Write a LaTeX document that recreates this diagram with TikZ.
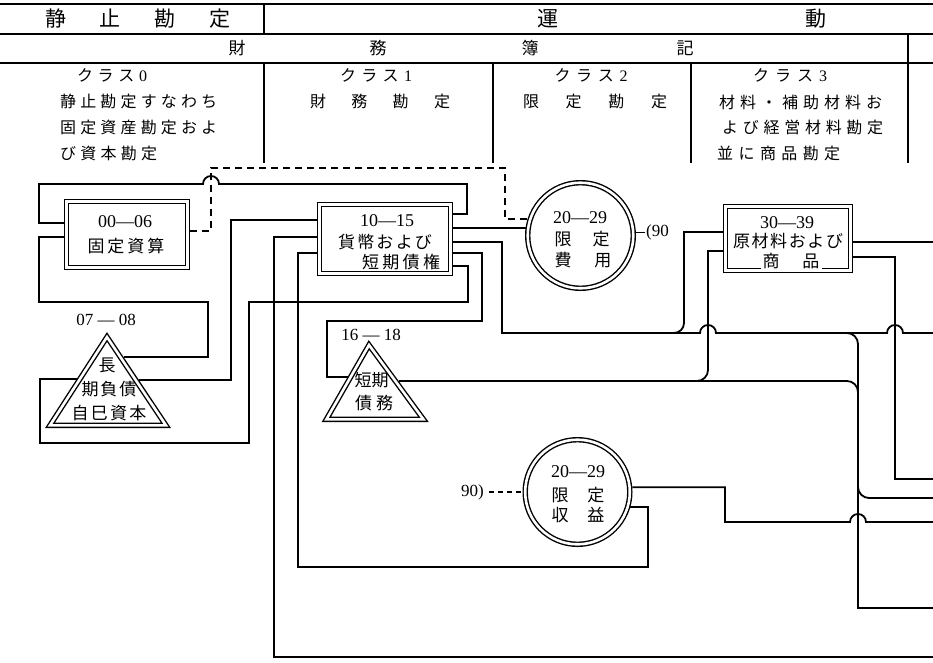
\documentclass[tikz,border=0pt]{standalone}
\usepackage{fontspec}
\setmainfont{Liberation Serif}
\newfontfamily\cjk{Noto Sans CJK JP}
\def\spmark{SPMARK}
\def\endspr{}
\def\spr#1{\sprA#1\spmark\endspr}
\def\sprA#1#2\endspr{{#1}\ifx\spmark#2\else\hfil\sprA#2\endspr\fi}
\newcommand\spreadbox[2]{\makebox[#1][s]{\spr{#2}}}
\begin{document}
\begin{tikzpicture}[x=1pt,y=-1pt,
 ln/.style={line width=1.8pt},
 hd/.style={line width=1.8pt},
 dbl/.style={draw,line width=1.4pt,double=white,double distance=2.6pt,inner sep=0pt,outer sep=2.7pt},
 dtri/.style={line width=1.4pt,double=white,double distance=2.6pt,line join=miter},
 dsh/.style={line width=1.8pt,dash pattern=on 7pt off 5pt},
 jp/.style={font=\cjk\fontsize{16}{16}\selectfont,inner sep=0pt},
 jpb/.style={font=\cjk\fontsize{21}{21}\selectfont,inner sep=0pt},
 jpm/.style={font=\cjk\fontsize{17}{17}\selectfont,inner sep=0pt},
 num/.style={font=\fontsize{18}{18}\selectfont,inner sep=0pt},
 nums/.style={font=\fontsize{17}{17}\selectfont,inner sep=0pt}]
\fill[white] (0,0) rectangle (933,662);
\useasboundingbox (0,0) rectangle (933,662);
% header table
\draw[hd] (0,4) -- (933,4);
\draw[hd] (0,34) -- (933,34);
\draw[hd] (0,63) -- (933,63);
\draw[hd] (264,4) -- (264,34);
\draw[hd] (908,34) -- (908,63);
\draw[hd] (264,63) -- (264,163);
\draw[hd] (493,63) -- (493,163);
\draw[hd] (691,63) -- (691,163);
\draw[hd] (908,63) -- (908,163);
\node[jpb] (h1) at (138,19) {\spreadbox{186pt}{静止勘定}};
\node[jpb] (h2) at (548,19) {運};
\node[jpb] (h3) at (816,19) {動};
\node[jpm] (h4a) at (237,48) {財};
\node[jpm] (h4b) at (378,48) {務};
\node[jpm] (h4c) at (530,48) {簿};
\node[jpm] (h4d) at (685,48) {記};
\node[jp] (c0a) at (112,75) {\spreadbox{70pt}{クラス{\rmfamily 0}}};
\node[jp,anchor=west] (c0b) at (60,101) {\spreadbox{157pt}{静止勘定すなわち}};
\node[jp,anchor=west] (c0c) at (60,127) {\spreadbox{157pt}{固定資産勘定およ}};
\node[jp,anchor=west] (c0d) at (60,153) {\spreadbox{97pt}{び資本勘定}};
\node[jp] (c1a) at (376,75) {\spreadbox{72pt}{クラス{\rmfamily 1}}};
\node[jp] (c1b) at (380,101) {\spreadbox{140pt}{財務勘定}};
\node[jp] (c2a) at (591,75) {\spreadbox{73pt}{クラス{\rmfamily 2}}};
\node[jp] (c2b) at (595,101) {\spreadbox{144pt}{限定勘定}};
\node[jp] (c3a) at (790,75) {\spreadbox{74pt}{クラス{\rmfamily 3}}};
\node[jp,anchor=west] (c3b) at (719,102) {\spreadbox{163pt}{材料・補助材料お}};
\node[jp,anchor=west] (c3c) at (722,127) {\spreadbox{161pt}{よび経営材料勘定}};
\node[jp,anchor=west] (c3d) at (717,153) {\spreadbox{123pt}{並に商品勘定}};
% nodes
\node[dbl,minimum width=120.6pt,minimum height=65.6pt] (b0) at (127,234.5) {};
\node[dbl,minimum width=130.6pt,minimum height=68.6pt] (b1) at (385,239) {};
\node[dbl,minimum width=124.6pt,minimum height=63.6pt] (b3) at (788,238.5) {};
\node[dbl,circle,minimum size=105.6pt] (k1) at (580.5,235.5) {};
\node[dbl,circle,minimum size=104.6pt] (k2) at (577.5,492) {};
\draw[dtri] (107,337) -- (50,425.3) -- (165.9,425.3) -- cycle;
\draw[dtri] (369,345) -- (326.4,419.3) -- (423.4,419.3) -- cycle;
\coordinate (p1L) at (76.6,379);
\coordinate (p1R) at (139,380);
\coordinate (p1R2) at (123.7,357);
\coordinate (p2L) at (347.8,377);
\coordinate (p2R) at (399,381);
\coordinate (e242) at (933,242);
\coordinate (e333) at (933,333);
\coordinate (e479) at (933,479);
\coordinate (e498) at (933,498);
\coordinate (e522) at (933,522);
\coordinate (e608) at (933,608);
\coordinate (e657) at (933,657);
% texts in nodes
\node[num] (b0t1) at (125,222) {00—06};
\node[jpm] (b0t2) at (126,246) {\spreadbox{77pt}{固定資算}};
\node[num] (b1t1) at (387,221) {10—15};
\node[jpm] (b1t2) at (385,242) {\spreadbox{94pt}{貨幣および}};
\node[jpm] (b1t3) at (401,262) {\spreadbox{78pt}{短期債権}};
\node[num] (b3t1) at (787,223) {30—39};
\node[jpm] (b3t2) at (788,241) {\spreadbox{110pt}{原材料および}};
\node[jpm,fill=white,inner xsep=2pt] (b3t3) at (791,261) {\spreadbox{57pt}{商品}};
\node[num] (k1t1) at (580,218) {20—29};
\node[jpm] (k1t2) at (582,239) {\spreadbox{55pt}{限定}};
\node[jpm] (k1t3) at (583,260) {\spreadbox{57pt}{費用}};
\node[num] (k2t1) at (578,472) {20—29};
\node[jpm] (k2t2) at (578,495) {\spreadbox{53pt}{限定}};
\node[jpm] (k2t3) at (578,515) {\spreadbox{53pt}{収益}};
\node[nums] (t1l) at (106,320) {07 — 08};
\node[jpm] (t1a) at (107,365) {長};
\node[jpm] (t1b) at (109,389) {\spreadbox{55pt}{期負債}};
\node[jpm] (t1c) at (109,413) {\spreadbox{75pt}{自巳資本}};
\node[nums] (t2l) at (371,335) {16 — 18};
\node[jpm] (t2a) at (371,380) {\spreadbox{33pt}{短期}};
\node[jpm] (t2b) at (374,403) {\spreadbox{38pt}{債務}};
% connectors
\draw[ln] (b1.east|-0,214) -- (467,214) -- (467,184) -- (219,184)
  arc[start angle=0,end angle=-180,radius=8] -- (39,184) -- (39,223) -- (b0.west|-0,223);
\draw[ln] (b0.west|-0,237) -- (39,237) -- (39,302) -- (208,302) -- (208,357) -- (p1R2);
\draw[dsh] (b0.east|-0,231) -- (211,231) -- (211,168) -- (505,168) -- (k1.163 -| 505,0) -- (k1.163);
\draw[ln] (p1L) -- (40,379) -- (40,443) -- (249,443) -- (249,302) -- (468,302) -- (468,266) -- (b1.east|-0,266);
\draw[ln] (p1R) -- (231,380) -- (231,220) -- (b1.west|-0,220);
\draw[ln] (b1.west|-0,237) -- (274,237) -- (274,657) -- (e657);
\draw[ln] (b1.west|-0,253) -- (298,253) -- (298,567) -- (648,567) -- (k2.344 -| 648,0) -- (k2.344);
\draw[ln] (k1.172 -| b1.east) -- (k1.172);
\draw[ln] (b1.east|-0,242) -- (502,242) -- (502,333) -- (700,333)
  arc[start angle=180,end angle=360,radius=8] -- (887,333)
  arc[start angle=180,end angle=360,radius=8] -- (e333);
\draw[ln,rounded corners=10pt] (660,333) -- (684,333) -- (684,300);
\draw[ln] (684,300) -- (684,232) -- (b3.west|-0,232);
\draw[ln,rounded corners=11pt] (830,333) -- (858,333) -- (858,365);
\draw[ln] (858,365) -- (858,608) -- (e608);
\draw[ln,rounded corners=11pt] (858,470) -- (858,498) -- (885,498);
\draw[ln] (885,498) -- (e498);
\draw[ln] (b1.east|-0,253) -- (482,253) -- (482,321) -- (327,321) -- (327,377) -- (p2L);
\draw[ln] (p2R) -- (835,381);
\draw[ln,rounded corners=11pt] (680,381) -- (708,381) -- (708,355);
\draw[ln] (708,355) -- (708,251) -- (b3.west|-0,251);
\draw[ln,rounded corners=11pt] (825,381) -- (858,381) -- (858,410);
\draw[ln] (b3.east|-0,242) -- (e242);
\draw[ln] (b3.east|-0,257) -- (895,257) -- (895,479) -- (e479);
\draw[ln] (k2.5) -- (k2.5 -| 725,0) -- (725,522) -- (850,522)
  arc[start angle=180,end angle=360,radius=8] -- (e522);
\draw[line width=1.4pt] (k1.3) -- ++(9,0) coordinate (k1d);
\node[nums,anchor=west] (n90a) at ([xshift=1pt]k1d) {(90};
\node[nums,anchor=east] (n90b) at (484,492) {90)};
\draw[line width=1.4pt,dash pattern=on 5pt off 4pt] ([xshift=5pt]n90b.east) -- (k2.west);
\end{tikzpicture}
\end{document}
